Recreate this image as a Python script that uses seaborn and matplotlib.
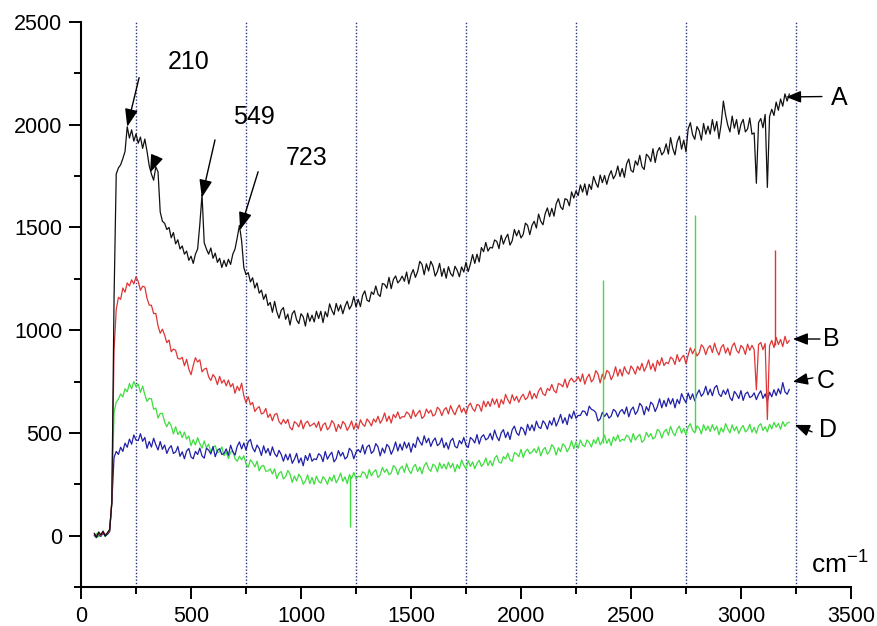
import numpy as np
import pandas as pd
import matplotlib
matplotlib.use("Agg")
import matplotlib.pyplot as plt
from matplotlib.ticker import MultipleLocator
import seaborn as sns

# Raman shift grid (cm^-1), one reading every 10 cm^-1
wavenumber = np.arange(60, 3221, 10)

spectrum_A = [
    12, -8, 18, 4, 22, -3, 15, 30, 160, 1150, 1760, 1790, 1805, 1835, 1870, 1990, 1935, 1975, 1920, 1955,
    1910, 1940, 1885, 1930, 1870, 1800, 1760, 1730, 1795, 1770, 1575, 1530, 1520, 1490, 1500, 1450, 1475, 1420, 1440, 1395,
    1410, 1370, 1385, 1340, 1360, 1325, 1370, 1395, 1515, 1660, 1425, 1395, 1370, 1400, 1350, 1375, 1330, 1350, 1305, 1340,
    1310, 1345, 1320, 1370, 1395, 1450, 1510, 1435, 1305, 1270, 1280, 1235, 1255, 1205, 1230, 1180, 1195, 1150, 1175, 1120,
    1135, 1087, 1140, 1090, 1058, 1097, 1110, 1053, 1078, 1025, 1080, 1095, 1050, 1032, 1080, 1065, 1020, 1083, 1043, 1073,
    1040, 1092, 1057, 1092, 1037, 1090, 1065, 1128, 1097, 1075, 1130, 1093, 1123, 1080, 1116, 1141, 1102, 1121, 1164, 1113,
    1150, 1115, 1170, 1191, 1146, 1139, 1186, 1174, 1215, 1175, 1164, 1227, 1223, 1204, 1257, 1202, 1247, 1264, 1230, 1243,
    1263, 1238, 1283, 1225, 1270, 1295, 1257, 1285, 1335, 1320, 1270, 1323, 1288, 1335, 1312, 1263, 1285, 1325, 1262, 1300,
    1253, 1309, 1276, 1262, 1311, 1291, 1260, 1308, 1283, 1330, 1285, 1322, 1368, 1325, 1370, 1332, 1402, 1382, 1427, 1385,
    1403, 1400, 1439, 1432, 1397, 1462, 1419, 1448, 1467, 1414, 1435, 1490, 1459, 1486, 1449, 1466, 1521, 1510, 1465, 1510,
    1530, 1497, 1565, 1530, 1513, 1567, 1595, 1553, 1593, 1555, 1615, 1640, 1600, 1587, 1640, 1635, 1605, 1673, 1643, 1678,
    1655, 1707, 1672, 1712, 1657, 1710, 1685, 1748, 1717, 1695, 1755, 1718, 1753, 1710, 1751, 1776, 1737, 1756, 1799, 1748,
    1787, 1744, 1809, 1833, 1778, 1769, 1824, 1803, 1851, 1796, 1782, 1856, 1845, 1821, 1883, 1816, 1869, 1889, 1853, 1868,
    1907, 1857, 1937, 1884, 1853, 1916, 1944, 1881, 1925, 1868, 1980, 2010, 1952, 1929, 1991, 1971, 1925, 2006, 1954, 1993,
    1954, 2025, 1969, 2016, 1932, 2004, 2115, 2048, 1998, 1965, 2042, 1983, 2025, 1953, 2003, 2026, 1965, 1979, 2033, 1954,
    1960, 1715, 2010, 2030, 1985, 2050, 1695, 2040, 2075, 2045, 2110, 2070, 2125, 2090, 2150, 2115, 2150,
]

spectrum_B = [
    8, -4, 14, 0, 18, 6, 10, 25, 170, 900, 1100, 1160, 1150, 1205, 1185, 1230, 1215, 1245, 1225, 1260,
    1237, 1194, 1214, 1210, 1155, 1122, 1121, 1081, 1081, 1021, 985, 1005, 976, 939, 952, 895, 908, 902, 863, 859,
    868, 827, 858, 811, 783, 828, 866, 845, 856, 797, 810, 815, 773, 755, 784, 769, 735, 775, 742, 758,
    729, 757, 724, 740, 693, 727, 706, 742, 681, 647, 676, 637, 648, 604, 619, 628, 592, 597, 619, 575,
    592, 559, 589, 595, 555, 542, 566, 546, 566, 526, 515, 555, 546, 529, 562, 520, 548, 557, 533, 539,
    548, 527, 555, 510, 539, 549, 515, 528, 560, 545, 507, 541, 520, 556, 543, 512, 531, 558, 517, 548,
    520, 564, 542, 532, 568, 554, 534, 568, 552, 581, 547, 566, 597, 556, 582, 548, 590, 574, 602, 569,
    579, 578, 602, 593, 570, 612, 579, 596, 610, 570, 581, 616, 596, 611, 582, 590, 625, 614, 584, 612,
    623, 592, 633, 606, 588, 618, 636, 600, 621, 592, 630, 645, 618, 605, 639, 634, 605, 655, 627, 653,
    629, 667, 639, 665, 623, 662, 641, 687, 661, 642, 686, 657, 678, 649, 674, 688, 662, 672, 704, 665,
    692, 669, 704, 720, 690, 682, 716, 706, 736, 706, 695, 740, 736, 724, 762, 720, 753, 767, 748, 754,
    774, 750, 787, 737, 769, 786, 748, 762, 803, 787, 743, 786, 762, 804, 795, 759, 781, 822, 776, 810,
    777, 822, 797, 786, 826, 810, 786, 824, 805, 839, 800, 822, 855, 809, 838, 800, 853, 829, 866, 828,
    843, 837, 869, 860, 833, 881, 847, 866, 878, 836, 879, 914, 885, 908, 874, 889, 929, 916, 881, 913,
    925, 891, 937, 901, 879, 916, 930, 888, 914, 878, 922, 938, 902, 888, 926, 914, 882, 932, 902, 926,
    905, 710, 930, 940, 905, 935, 565, 925, 950, 915, 965, 930, 955, 920, 970, 935, 950,
]

spectrum_C = [
    2, -10, 8, -4, 12, 0, 6, 20, 160, 380, 410, 395, 430, 410, 450, 430, 470, 445, 490, 465,
    463, 496, 459, 478, 425, 458, 431, 474, 442, 417, 458, 420, 441, 400, 425, 438, 400, 407, 434, 386,
    408, 374, 412, 424, 383, 374, 410, 395, 426, 388, 377, 426, 416, 397, 434, 384, 415, 423, 395, 400,
    422, 391, 440, 408, 392, 435, 456, 422, 451, 416, 457, 468, 427, 408, 441, 424, 390, 437, 402, 424,
    390, 432, 399, 384, 415, 395, 362, 396, 368, 398, 352, 372, 400, 354, 378, 340, 390, 366, 400, 362,
    374, 370, 399, 390, 360, 410, 372, 392, 406, 359, 374, 414, 387, 405, 373, 383, 425, 412, 374, 406,
    419, 405, 442, 397, 432, 441, 400, 412, 448, 432, 388, 426, 402, 444, 432, 396, 420, 456, 412, 446,
    416, 456, 426, 452, 406, 448, 429, 480, 457, 440, 486, 452, 474, 434, 461, 475, 438, 447, 475, 428,
    453, 421, 461, 474, 434, 427, 463, 447, 478, 440, 429, 478, 468, 451, 492, 446, 480, 491, 466, 474,
    498, 466, 514, 481, 462, 500, 516, 477, 504, 468, 515, 533, 500, 488, 528, 519, 490, 542, 512, 539,
    510, 557, 529, 521, 559, 545, 518, 559, 538, 574, 533, 558, 590, 547, 574, 540, 591, 570, 606, 571,
    585, 585, 607, 604, 584, 630, 615, 610, 599, 558, 568, 600, 580, 596, 572, 582, 614, 606, 578, 604,
    614, 592, 626, 578, 612, 626, 590, 606, 644, 630, 588, 628, 606, 650, 638, 604, 628, 666, 622, 658,
    628, 669, 640, 667, 622, 663, 642, 691, 666, 647, 694, 663, 690, 656, 689, 709, 678, 693, 727, 685,
    713, 681, 720, 731, 689, 677, 708, 687, 714, 672, 657, 702, 688, 667, 706, 658, 690, 699, 672, 678,
    695, 662, 688, 705, 668, 690, 655, 698, 676, 710, 682, 715, 690, 745, 700, 688, 712,
]

spectrum_D = [
    -2, 10, -6, 6, 14, -4, 8, 18, 165, 600, 650, 665, 690, 675, 715, 700, 740, 715, 750, 725,
    738, 697, 728, 686, 653, 668, 666, 615, 621, 572, 595, 595, 553, 530, 554, 534, 495, 530, 492, 508,
    477, 504, 470, 485, 438, 467, 441, 477, 448, 426, 461, 428, 445, 407, 428, 438, 403, 409, 432, 389,
    407, 375, 406, 413, 374, 362, 387, 368, 389, 350, 333, 369, 356, 334, 362, 315, 338, 342, 313, 315,
    325, 300, 325, 277, 304, 312, 276, 287, 317, 300, 259, 290, 266, 299, 283, 250, 266, 296, 253, 283,
    250, 290, 264, 255, 287, 274, 250, 285, 265, 295, 257, 277, 304, 264, 286, 253, 297, 278, 308, 277,
    289, 285, 311, 304, 278, 322, 291, 310, 321, 283, 296, 332, 308, 324, 296, 305, 341, 331, 297, 326,
    338, 308, 350, 319, 302, 333, 347, 312, 334, 301, 340, 356, 325, 313, 348, 339, 310, 355, 327, 348,
    324, 357, 330, 352, 311, 346, 326, 368, 343, 325, 365, 337, 359, 326, 352, 367, 337, 349, 378, 341,
    365, 339, 376, 390, 358, 353, 385, 373, 401, 369, 361, 404, 398, 384, 420, 380, 410, 421, 399, 407,
    423, 403, 432, 388, 418, 429, 396, 410, 443, 429, 392, 428, 409, 447, 436, 408, 428, 462, 423, 456,
    425, 466, 441, 433, 466, 454, 431, 467, 448, 479, 442, 462, 489, 449, 471, 438, 481, 461, 490, 458,
    469, 464, 489, 481, 454, 497, 465, 483, 493, 454, 466, 503, 480, 497, 470, 480, 517, 508, 475, 505,
    518, 489, 532, 502, 486, 518, 533, 499, 522, 490, 530, 545, 513, 500, 534, 524, 495, 540, 512, 533,
    507, 540, 512, 533, 491, 525, 504, 545, 519, 500, 539, 510, 531, 497, 522, 536, 505, 515, 542, 503,
    527, 498, 534, 545, 512, 530, 505, 542, 520, 551, 528, 546, 518, 555, 532, 548, 552,
]

samples = ["A", "B", "C", "D"]
line_colors = {"A": "#111111", "B": "#e03535", "C": "#2020a8", "D": "#3ede3e"}

# narrow cosmic-ray spikes: (sample, shift, low, high)
spike_sample = ["B", "D", "D", "D"]
spike_shift = [3155, 1223, 2373, 2791]
spike_low = [930, 42, 450, 510]
spike_high = [1390, 290, 1244, 1561]

# assigned bands on spectrum A
band_shift = [210, 549, 723]
band_label = ["210", "549", "723"]

guide_shift = [250, 750, 1250, 1750, 2250, 2750, 3250]

df = pd.concat(
    [
        pd.DataFrame({"shift": wavenumber, "intensity": vals, "sample": s})
        for s, vals in zip(samples, [spectrum_A, spectrum_B, spectrum_C, spectrum_D])
    ],
    ignore_index=True,
)

sns.set_style("ticks")
plt.rcParams["font.family"] = ["Liberation Sans", "DejaVu Sans"]
plt.rcParams["mathtext.fontset"] = "custom"
plt.rcParams["mathtext.rm"] = "Liberation Sans"
plt.rcParams["text.color"] = "black"

fig = plt.figure(figsize=(8.77, 6.26), dpi=100)
ax = fig.add_axes([0.0924, 0.0623, 0.8779, 0.9026])

for gx in guide_shift:
    ax.axvline(gx, color="#27307a", lw=1.0, ls=(0, (1, 1.4)), zorder=1)

sns.lineplot(
    data=df, x="shift", y="intensity", hue="sample", hue_order=["D", "C", "B", "A"],
    palette=line_colors, estimator=None, sort=False, legend=False, lw=0.9, ax=ax, zorder=3,
)
for s, xs, lo, hi in zip(spike_sample, spike_shift, spike_low, spike_high):
    ax.vlines(xs, lo, hi, color=line_colors[s], lw=1.0, zorder=3)

ax.set_xlim(0, 3500)
ax.set_ylim(-250, 2500)
ax.set_xticks(np.arange(0, 3501, 500))
ax.set_yticks(np.arange(0, 2501, 500))
ax.xaxis.set_minor_locator(MultipleLocator(250))
ax.yaxis.set_minor_locator(MultipleLocator(250))
ax.tick_params(which="major", direction="out", length=8.5, width=1.4, labelsize=15.5, pad=5,
               colors="black", labelcolor="black")
ax.tick_params(which="minor", direction="out", length=5, width=1.4, colors="black")
for side in ["top", "right"]:
    ax.spines[side].set_visible(False)
for side in ["left", "bottom"]:
    ax.spines[side].set_linewidth(1.5)
    ax.spines[side].set_color("black")
ax.set_xlabel("")
ax.set_ylabel("")

arrow_kw = dict(arrowstyle="-|>,head_length=0.6,head_width=0.22", color="black", lw=1.0,
                mutation_scale=18, shrinkA=0, shrinkB=0)

# band annotations on spectrum A
peak_height = np.interp(band_shift, wavenumber, spectrum_A)
tails = [(264, 2229), (609, 1926), (805, 1771)]
texts = [(491, 2307), (786, 2039), (1027, 1840)]
for lab, bx, by, tail, tpos in zip(band_label, band_shift, peak_height, tails, texts):
    ax.annotate("", xy=(bx, by), xytext=tail, arrowprops=arrow_kw, zorder=5)
    ax.text(tpos[0], tpos[1], lab, fontsize=18, ha="center", va="center", color="black")
# shoulder marker
ax.annotate("", xy=(314, 1767), xytext=(345, 1845), arrowprops=arrow_kw, zorder=5)

# sample labels
label_kw = dict(arrowstyle="-|>,head_length=0.5,head_width=0.2", color="black", lw=1.0,
                mutation_scale=18, shrinkA=0, shrinkB=0)
label_tip = {"A": (3205, 2135), "B": (3236, 957), "C": (3236, 749), "D": (3245, 539)}
label_tail = {"A": (3368, 2137), "B": (3359, 957), "C": (3327, 768), "D": (3323, 505)}
label_pos = {"A": (3445, 2132), "B": (3409, 957), "C": (3386, 753), "D": (3395, 515)}
for s in samples:
    ax.annotate("", xy=label_tip[s], xytext=label_tail[s], arrowprops=label_kw, annotation_clip=False)
    ax.text(*label_pos[s], s, fontsize=18, ha="center", va="center", clip_on=False, color="black")

ax.text(3450, -143, r"$\mathregular{cm^{-1}}$", fontsize=19, ha="center", va="center", color="black")

fig.savefig("out.png", dpi=100)
